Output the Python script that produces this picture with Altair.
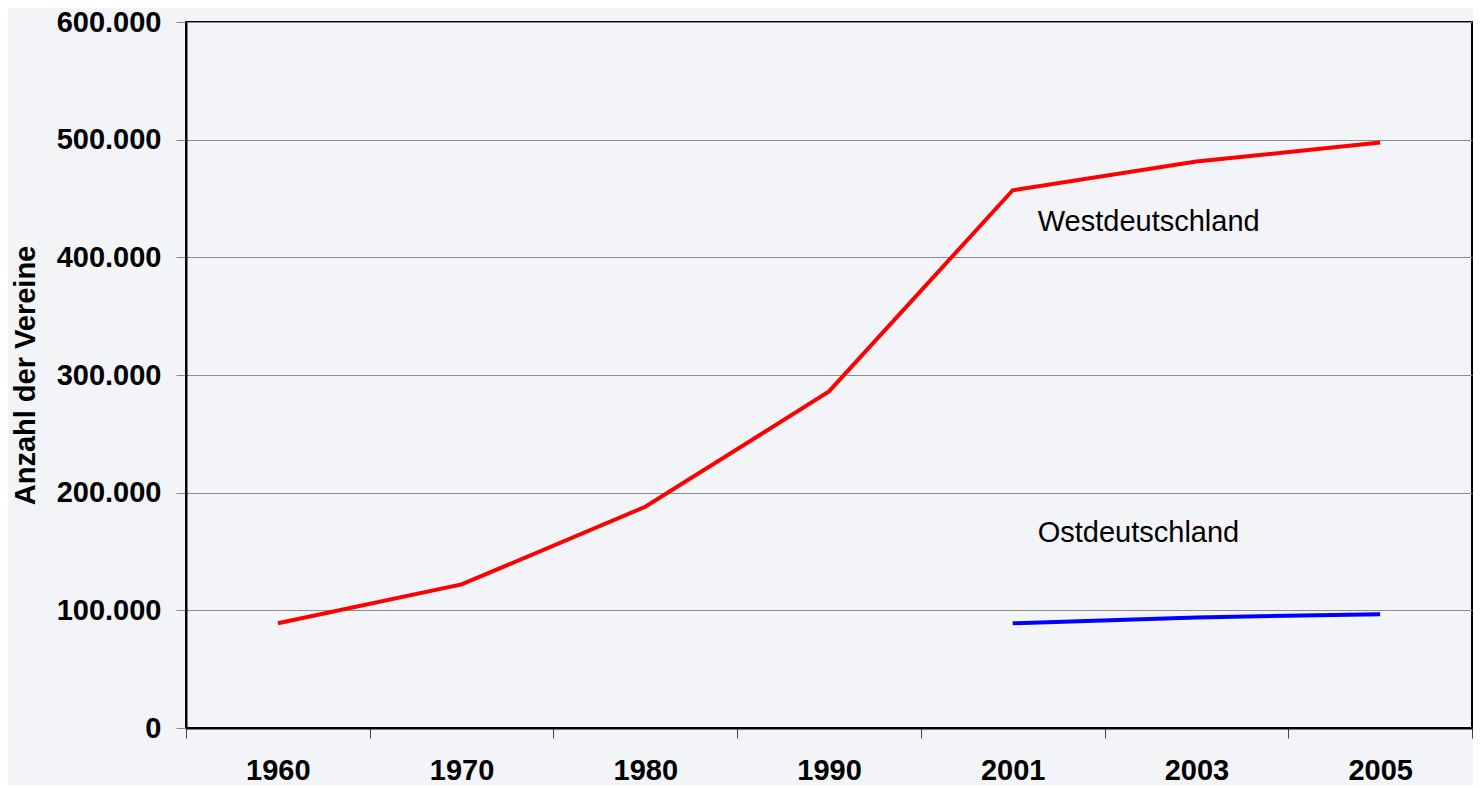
import altair as alt
import pandas as pd

years = ["1960", "1970", "1980", "1990", "2001", "2003", "2005"]
west_values = [89000, 122000, 188000, 286000, 457000, 481500, 497500]
east_years = ["2001", "2003", "2005"]
east_values = [89000, 94000, 96700]

label_texts = ["Westdeutschland", "Ostdeutschland"]
label_years = ["2001", "2001"]
label_values = [430000, 166000]

rows = [{"Jahr": y, "Anzahl": v, "Serie": "Westdeutschland"} for y, v in zip(years, west_values)]
rows += [{"Jahr": y, "Anzahl": v, "Serie": "Ostdeutschland"} for y, v in zip(east_years, east_values)]
df = pd.DataFrame(rows)
labels = pd.DataFrame({"Jahr": label_years, "Anzahl": label_values, "text": label_texts})

FONT = "Liberation Sans"
FS = 29

x_enc = alt.X(
    "Jahr:N",
    sort=years,
    scale=alt.Scale(domain=years, paddingInner=0, paddingOuter=0),
    axis=alt.Axis(
        title=None,
        labelAngle=0,
        labelFont=FONT,
        labelFontSize=FS,
        labelFontWeight="bold",
        labelColor="black",
        labelPadding=18,
        tickBand="extent",
        tickSize=10,
        tickColor="#444444",
        domainColor="black",
        domainWidth=2,
        grid=False,
    ),
)
y_enc = alt.Y(
    "Anzahl:Q",
    scale=alt.Scale(domain=[0, 600000], nice=False),
    axis=alt.Axis(
        title="Anzahl der Vereine",
        titleFont=FONT,
        titleFontSize=FS,
        titleFontWeight="bold",
        titleColor="black",
        titlePadding=16,
        values=[0, 100000, 200000, 300000, 400000, 500000, 600000],
        labelExpr="replace(format(datum.value, ','), ',', '.')",
        labelFont=FONT,
        labelFontSize=FS,
        labelFontWeight="bold",
        labelColor="black",
        labelPadding=15,
        tickSize=10,
        tickColor="#888888",
        domainColor="black",
        domainWidth=2,
        grid=True,
        gridColor="#8c8c8c",
        gridWidth=1,
    ),
)

lines = alt.Chart(df).mark_line(strokeWidth=4, strokeCap="butt").encode(
    x=x_enc,
    y=y_enc,
    color=alt.Color(
        "Serie:N",
        scale=alt.Scale(domain=["Westdeutschland", "Ostdeutschland"], range=["#FF0000", "#0000FF"]),
        legend=None,
    ),
)

text = alt.Chart(labels).mark_text(
    align="left", baseline="middle", dx=25, font=FONT, fontSize=FS, color="black"
).encode(
    x=alt.X("Jahr:N", sort=years),
    y=alt.Y("Anzahl:Q"),
    text="text:N",
)

chart = (
    alt.layer(lines, text)
    .properties(width=1286, height=706, padding={"left": 3, "top": 0, "right": 0, "bottom": 0})
    .configure(background="#F3F4F7")
    .configure_view(stroke="black", strokeWidth=2, fill="#F3F4F7")
)

chart.save("out.html", embed_options={"renderer": "svg", "actions": False})
